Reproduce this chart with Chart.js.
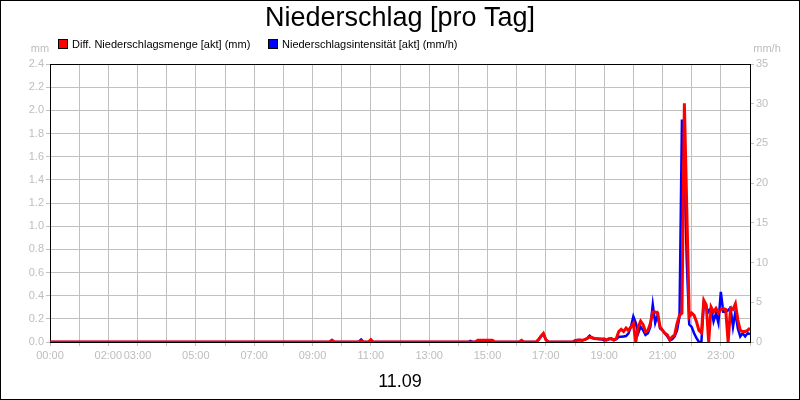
<!DOCTYPE html>
<html>
<head>
<meta charset="utf-8">
<title>Niederschlag [pro Tag]</title>
<script src="https://cdn.jsdelivr.net/npm/chart.js@4.4.1/dist/chart.umd.min.js"></script>
<style>
  body { margin: 0; background: #fff; }
  canvas { display: block; }
</style>
</head>
<body>
<canvas id="diagramm" width="800" height="400"></canvas>
<script>
// Niederschlag pro Tag - Werte im 5-Minuten-Raster

const zeitenMenge = ['00:00', '09:35', '09:40', '09:45', '10:35', '10:40', '10:45', '10:55', '11:00', '11:05',
    '14:35', '14:40', '15:10', '15:15', '16:05', '16:10', '16:15',
    '16:40', '16:45', '16:50', '16:55', '17:00', '17:05',
    '17:55', '18:00', '18:05', '18:10', '18:15', '18:20', '18:25', '18:30', '18:35', '18:40', '18:45', '18:50', '18:55',
    '19:00', '19:05', '19:10', '19:15', '19:20', '19:25', '19:30', '19:35', '19:40', '19:45', '19:50', '19:55',
    '20:00', '20:05', '20:10', '20:15', '20:20', '20:25', '20:30', '20:35', '20:40', '20:45', '20:50', '20:55',
    '21:00', '21:05', '21:10', '21:15', '21:20', '21:25', '21:30', '21:35', '21:40', '21:45', '21:55',
    '22:00', '22:05', '22:10', '22:15', '22:20', '22:25', '22:30', '22:35', '22:40', '22:45', '22:50', '22:55',
    '23:00', '23:05', '23:10', '23:15', '23:20', '23:25', '23:30', '23:35', '23:40', '23:45', '23:50', '23:55', '24:00'];
const werteMenge = [0, 0, 0.015, 0, 0, 0.01, 0, 0, 0.02, 0,
    0, 0.015, 0.015, 0, 0, 0.015, 0,
    0, 0.02, 0.05, 0.075, 0.02, 0,
    0, 0.01, 0.015, 0.017, 0.015, 0.02, 0.03, 0.043, 0.037, 0.03, 0.028, 0.028, 0.025,
    0.027, 0.017, 0.03, 0.025, 0.017, 0.03, 0.09, 0.11, 0.09, 0.12, 0.1, 0.13,
    0.16, 0, 0.13, 0.18, 0.15, 0.09, 0.1, 0.16, 0.26, 0.26, 0.25, 0.13,
    0.1, 0.075, 0.06, 0.02, 0.045, 0.06, 0.16, 0.23, 0.25, 2.06, 0.22,
    0.25, 0.23, 0.175, 0.1, 0.08, 0.36, 0.32, 0, 0.3, 0.26, 0.29, 0.25,
    0.28, 0.29, 0.28, 0, 0.29, 0.28, 0.33, 0.19, 0.1, 0.09, 0.09, 0.1, 0.12];

const zeitenIntensitaet = ['00:00', '09:35', '09:40', '09:45', '10:35', '10:40', '10:45', '10:55', '11:00', '11:05',
    '14:20', '14:25', '14:30', '14:35', '14:40', '15:10', '15:15',
    '16:40', '16:45', '16:50', '16:55', '17:00', '17:05',
    '17:55', '18:00', '18:05', '18:10', '18:15', '18:20', '18:25', '18:30', '18:35', '18:40', '18:45', '18:50', '18:55',
    '19:00', '19:05', '19:10', '19:15', '19:20', '19:25', '19:30', '19:35', '19:40', '19:45', '19:50', '19:55',
    '20:00', '20:05', '20:10', '20:15', '20:20', '20:25', '20:30', '20:35', '20:40', '20:45', '20:50', '20:55',
    '21:00', '21:05', '21:10', '21:15', '21:20', '21:25', '21:30', '21:35', '21:40', '21:45', '21:50', '21:55',
    '22:00', '22:05', '22:10', '22:15', '22:20', '22:25', '22:30', '22:35', '22:40', '22:45', '22:50', '22:55',
    '23:00', '23:05', '23:10', '23:15', '23:20', '23:25', '23:30', '23:35', '23:40', '23:45', '23:50', '23:55', '24:00'];
const werteIntensitaet = [0, 0, 0.25, 0, 0, 0.3, 0, 0, 0.2, 0,
    0, 0.15, 0, 0, 0.1, 0.1, 0,
    0, 0.3, 0.7, 1.0, 0.3, 0,
    0, 0.2, 0.25, 0.25, 0.2, 0.3, 0.45, 0.8, 0.55, 0.4, 0.4, 0.35, 0.35,
    0.2, 0.25, 0.35, 0.45, 0.25, 0.35, 0.65, 0.65, 0.7, 0.75, 1.1, 1.9,
    3.2, 2.4, 1.1, 1.9, 1.5, 0.9, 1.1, 1.9, 4.7, 2.4, 3.4, 1.7,
    1.5, 1.1, 0.7, 0.2, 0.35, 0.7, 1.5, 3.2, 28, 22, 10, 2.2,
    1.9, 1.1, 0.5, 0, 0, 4.9, 4.4, 3.8, 4.3, 2.6, 3.6, 2.4,
    6.3, 3.8, 3.8, 4.0, 4.3, 1.9, 3.8, 1.7, 0.7, 1.1, 0.7, 1.1, 1.0];

// Beschriftung der Zeitachse (nur diese Stunden tragen Text)
const zeitBeschriftung = ['00:00', '02:00', '03:00', '05:00', '07:00', '09:00', '11:00', '13:00', '15:00', '17:00', '19:00', '21:00', '23:00'];

const titel = 'Niederschlag [pro Tag]';
const datum = '11.09';
const legendeMenge = 'Diff. Niederschlagsmenge [akt] (mm)';
const legendeIntensitaet = 'Niederschlagsintensität [akt] (mm/h)';

const schrift = "'Liberation Sans', Arial, sans-serif";
const grau = '#bdbdbd';
const gitter = '#c0c0c0';

function inStunden(zeit) {
    const [h, m] = zeit.split(':').map(Number);
    return h + m / 60;
}

function punkte(zeiten, werte) {
    return zeiten.map((z, i) => ({ x: inStunden(z), y: werte[i] }));
}

// Rahmen, Titel, Legende, Einheiten und Datum
const beschriftung = {
    id: 'beschriftung',
    beforeDatasetsDraw(chart) {
        const ctx = chart.ctx;
        const a = chart.chartArea;
        ctx.save();
        ctx.strokeStyle = '#000';
        ctx.lineWidth = 1;
        ctx.strokeRect(Math.round(a.left) + 0.5, Math.round(a.top) + 0.5, Math.round(a.right - a.left), Math.round(a.bottom - a.top));
        ctx.restore();
    },
    afterDraw(chart) {
        const ctx = chart.ctx;
        ctx.save();

        ctx.strokeStyle = '#000';
        ctx.lineWidth = 1;
        ctx.strokeRect(0.5, 0.5, 799, 399);

        ctx.fillStyle = '#000';
        ctx.textAlign = 'center';
        ctx.textBaseline = 'middle';
        ctx.font = '27px ' + schrift;
        ctx.fillText(titel, 400, 19);

        ctx.font = '18px ' + schrift;
        ctx.fillText(datum, 400, 382);

        // Legende
        ctx.font = '11px ' + schrift;
        ctx.textAlign = 'left';
        const eintraege = [[58, '#ff0000', legendeMenge], [268, '#0000ff', legendeIntensitaet]];
        eintraege.forEach(([x, farbe, text]) => {
            ctx.fillStyle = farbe;
            ctx.fillRect(x, 39, 10, 10);
            ctx.strokeStyle = '#000';
            ctx.strokeRect(x + 0.5, 39.5, 9, 9);
            ctx.fillStyle = '#000';
            ctx.fillText(text, x + 14, 44.5);
        });

        ctx.fillStyle = grau;
        ctx.textAlign = 'center';
        ctx.fillText('mm', 40, 48.5);
        ctx.fillText('mm/h', 767, 48.5);
        ctx.restore();
    }
};

function achseOhneRand(breite, hoehe) {
    return function (scale) {
        if (breite !== null) scale.width = breite;
        if (hoehe !== null) scale.height = hoehe;
        scale.paddingTop = 0;
        scale.paddingBottom = 0;
        scale.paddingLeft = 0;
        scale.paddingRight = 0;
    };
}

new Chart(document.getElementById('diagramm'), {
    type: 'line',
    data: {
        datasets: [{
            label: legendeMenge,
            data: punkte(zeitenMenge, werteMenge),
            yAxisID: 'y',
            borderColor: '#ff0000',
            backgroundColor: '#ff0000',
            borderWidth: 3,
            pointRadius: 0,
            tension: 0
        }, {
            label: legendeIntensitaet,
            data: punkte(zeitenIntensitaet, werteIntensitaet),
            yAxisID: 'y1',
            borderColor: '#0000ff',
            backgroundColor: '#0000ff',
            borderWidth: 2.5,
            pointRadius: 0,
            tension: 0
        }]
    },
    options: {
        responsive: false,
        devicePixelRatio: 1,
        animation: false,
        layout: { padding: { top: 64, left: 0, right: 0, bottom: 0 } },
        scales: {
            x: {
                type: 'linear',
                min: 0,
                max: 24,
                afterFit: achseOhneRand(null, 58),
                border: { display: false },
                grid: { color: gitter, tickLength: 4 },
                ticks: {
                    stepSize: 1,
                    autoSkip: false,
                    maxRotation: 0,
                    padding: 3,
                    color: grau,
                    font: { family: schrift, size: 11 },
                    callback: function (value) {
                        const text = String(value).padStart(2, '0') + ':00';
                        return zeitBeschriftung.includes(text) ? text : '';
                    }
                }
            },
            y: {
                position: 'left',
                min: 0,
                max: 2.4,
                afterFit: achseOhneRand(50, null),
                border: { display: false },
                grid: { color: gitter, tickLength: 4 },
                ticks: {
                    stepSize: 0.2,
                    padding: 2,
                    color: grau,
                    font: { family: schrift, size: 11 },
                    callback: value => value.toFixed(1)
                }
            },
            y1: {
                position: 'right',
                min: 0,
                max: 35,
                afterFit: achseOhneRand(50, null),
                border: { display: false },
                grid: { color: gitter, tickLength: 4, drawOnChartArea: false },
                ticks: {
                    stepSize: 5,
                    padding: 2,
                    color: grau,
                    font: { family: schrift, size: 11 }
                }
            }
        },
        plugins: {
            legend: { display: false },
            title: { display: false },
            tooltip: { enabled: false }
        }
    },
    plugins: [beschriftung]
});
</script>
</body>
</html>
